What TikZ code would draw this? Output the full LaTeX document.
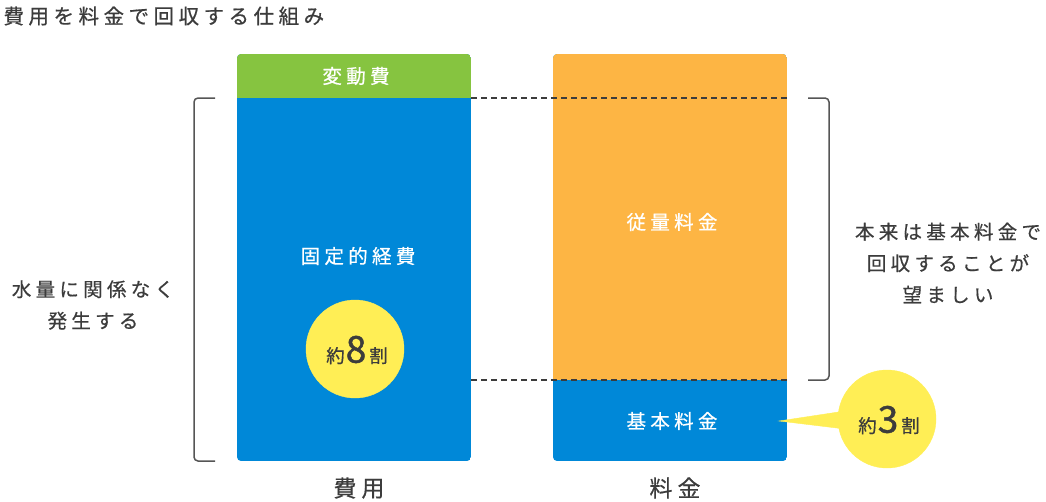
\documentclass[tikz,border=0pt]{standalone}
\usepackage{fontspec}
\setmainfont{Noto Sans CJK JP}[LetterSpace=22,FakeBold=0.6]
\newfontfamily\suuji{Noto Sans CJK JP}[FakeBold=1.2]
\usepackage{xcolor}
\usepackage{tikz}
\definecolor{hiyogreen}{HTML}{86C440}
\definecolor{hiyoblue}{HTML}{0088D8}
\definecolor{ryoorange}{HTML}{FDB544}
\definecolor{yakuyellow}{HTML}{FFEE55}
\definecolor{moji}{HTML}{3C3C3C}
\definecolor{kakko}{HTML}{555555}

\begin{document}
\begin{tikzpicture}[x=1pt,y=-1pt,
  label/.style={text=moji,font=\fontsize{19.5}{31.5}\selectfont,align=center},
  boxtext/.style={text=white,font=\fontsize{19.5}{20}\selectfont},
  yaku/.style={text=moji,font=\fontsize{18.5}{20}\selectfont},
  kakkoline/.style={draw=kakko,line width=1.5pt,rounded corners=4pt},
  tensen/.style={draw=moji,line width=1.3pt,dash pattern=on 6pt off 4pt}]
% 費用と料金の比較 - 固定費と基本料金
\useasboundingbox (0,0) rectangle (1046,501);
\coordinate (L1) at (215,98);
\coordinate (L2) at (194,98);
\coordinate (L3) at (194,461);
\coordinate (L4) at (215,461);
\coordinate (R1) at (808,98);
\coordinate (R2) at (829,98);
\coordinate (R3) at (829,380);
\coordinate (R4) at (808,380);
\coordinate (Dt1) at (471,98);
\coordinate (Dt2) at (787,98);
\coordinate (Db1) at (471,380);
\coordinate (Db2) at (787,380);

\node[anchor=west,text=moji,font=\fontsize{20.5}{22}\selectfont] (title) at (0,16) {費用を料金で回収する仕組み};

\begin{scope}
\clip[rounded corners=4pt] (237,54) rectangle (471,461);
\fill[hiyoblue] (237,54) rectangle (471,461);
\fill[hiyogreen] (237,54) rectangle (471,98);
\end{scope}
\node[boxtext] (hendo) at (356,76) {変動費};
\node[boxtext] (kotei) at (358,256) {固定的経費};

\begin{scope}
\clip[rounded corners=4pt] (553,54) rectangle (787,461);
\fill[hiyoblue] (553,54) rectangle (787,461);
\fill[ryoorange] (553,54) rectangle (787,380);
\end{scope}
\node[boxtext] (juryo) at (672,222) {従量料金};
\node[boxtext] (kihon) at (672,421) {基本料金};

\draw[tensen] (Dt1) -- (Dt2);
\draw[tensen] (Db1) -- (Db2);

\draw[kakkoline] (L1) -- (L2) -- (L3) -- (L4);
\draw[kakkoline] (R1) -- (R2) -- (R3) -- (R4);

\filldraw[color=yakuyellow] (355,349) circle (49);
\node[yaku] (hachi) at (357,350) {約\kern1pt{\suuji\fontsize{37}{37}\selectfont 8}\kern3pt割};

\coordinate (tip) at (779,421);
\filldraw[color=yakuyellow] (tip) -- (845,411) -- (845,429) -- cycle;
\filldraw[color=yakuyellow] (887,419) circle (49);
\node[yaku] (san) at (889,420) {約\kern1pt{\suuji\fontsize{37}{37}\selectfont 3}\kern3pt割};

\node[label] (hiyo) at (359,488) {\fontsize{23}{24}\selectfont 費用};
\node[label] (ryokin) at (675,488) {\fontsize{23}{24}\selectfont 料金};
\node[label] (mizu) at (93,305) {水量に関係なく\\発生する};
\node[label] (honrai) at (948,263) {本来は基本料金で\\回収することが\\望ましい};
\end{tikzpicture}
\end{document}
